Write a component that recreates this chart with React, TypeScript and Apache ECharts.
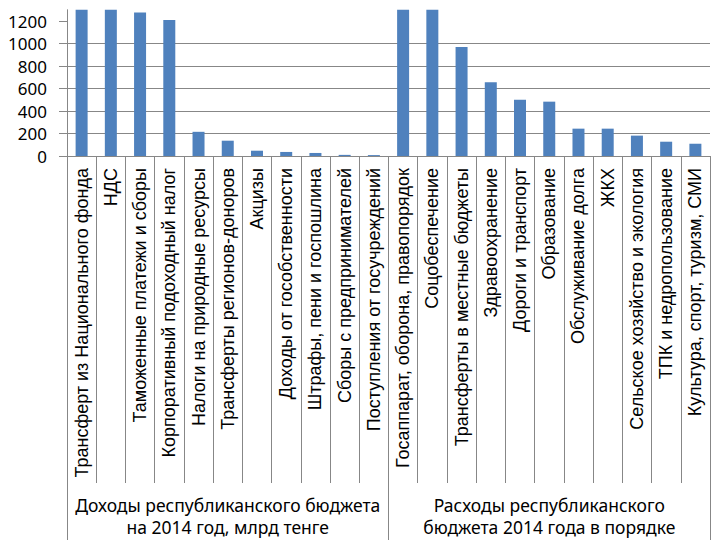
import React, { useEffect, useRef } from "react";
import * as echarts from "echarts";

const categories = [
  "Трансферт из Национального фонда",
  "НДС",
  "Таможенные платежи и сборы",
  "Корпоративный подоходный налог",
  "Налоги на природные ресурсы",
  "Трансферты регионов-доноров",
  "Акцизы",
  "Доходы от гособственности",
  "Штрафы, пени и госпошлина",
  "Сборы с предпринимателей",
  "Поступления от госучреждений",
  "Госаппарат, оборона, правопорядок",
  "Соцобеспечение",
  "Трансферты в местные бюджеты",
  "Здравоохранение",
  "Дороги и транспорт",
  "Образование",
  "Обслуживание долга",
  "ЖКХ",
  "Сельское хозяйство и экология",
  "ТПК и недропользование",
  "Культура, спорт, туризм, СМИ",
];

const values = [
  1380, 1450, 1275, 1210, 215, 136, 47, 36, 27, 10, 8,
  1400, 1350, 970, 655, 500, 483, 243, 243, 181, 127, 109,
];

const groups = [
  "Доходы республиканского бюджета\nна 2014 год, млрд тенге",
  "Расходы республиканского\nбюджета 2014 года в порядке",
];

const yTicks = [0, 200, 400, 600, 800, 1000, 1200];

export default function App() {
  const ref = useRef<HTMLDivElement>(null);
  useEffect(() => {
    if (!ref.current) return;
    const chart = echarts.init(ref.current, undefined, { renderer: "svg" });
    const gray = "#878787";
    chart.setOption({
      animation: false,
      grid: {
        left: 67,
        right: 10,
        top: 9.75,
        bottom: 384,
        containLabel: false,
        outerBoundsMode: "none",
      },
      xAxis: [
        {
          type: "category",
          data: categories,
          position: "bottom",
          axisLine: { show: true, lineStyle: { color: gray, width: 1 } },
          axisTick: { show: true, interval: 0, length: 327, lineStyle: { color: gray } },
          axisLabel: {
            interval: 0,
            rotate: 90,
            margin: 12,
            fontFamily: "Liberation Sans",
            fontSize: 18,
            color: "#000",
          },
        },
        {
          type: "category",
          data: groups,
          position: "bottom",
          offset: 327,
          axisLine: { show: false },
          axisTick: { show: true, interval: 0, length: 80, lineStyle: { color: gray } },
          axisLabel: {
            interval: 0,
            margin: 11,
            fontFamily: "Noto Sans",
            fontSize: 17.5,
            lineHeight: 22,
            color: "#000",
            verticalAlign: "top",
          },
        },
      ],
      yAxis: {
        type: "value",
        min: 0,
        max: 1300,
        interval: 200,
        axisLine: { show: true, lineStyle: { color: gray } },
        axisTick: { show: true, length: 8, customValues: yTicks, lineStyle: { color: gray } },
        axisLabel: {
          customValues: yTicks,
          margin: 20,
          fontFamily: "Noto Sans",
          fontSize: 17,
          color: "#000",
          formatter: (v: number) => String(v),
        },
        splitLine: { show: true, showMaxLine: false, lineStyle: { color: gray, width: 1 } },
      },
      series: [
        {
          type: "bar",
          data: values,
          xAxisIndex: 0,
          barWidth: 12,
          itemStyle: { color: "#4F81BD" },
        },
      ],
    });
    return () => chart.dispose();
  }, []);
  return (
    <div
      ref={ref}
      style={{ position: "absolute", left: 0, top: 0, width: 720, height: 540, background: "#fff" }}
    />
  );
}
